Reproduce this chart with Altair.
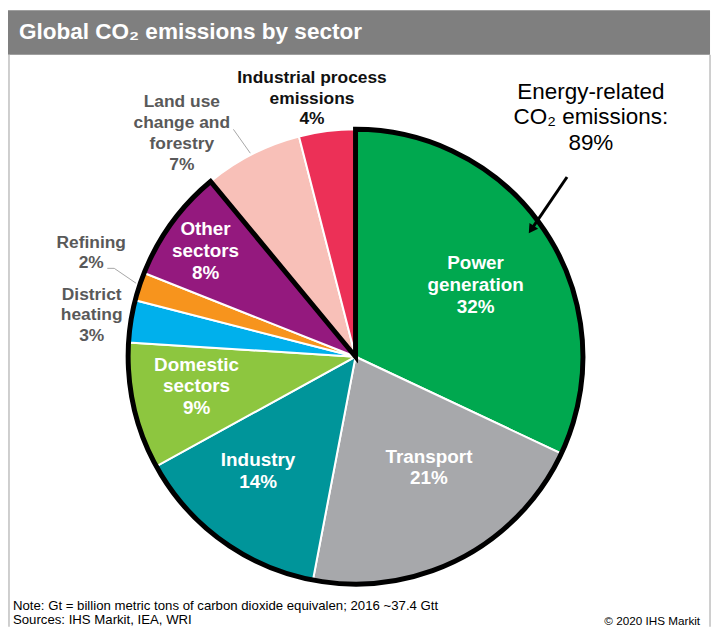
import altair as alt
import pandas as pd

# ---------------- data ----------------
sectors = ["Power generation", "Transport", "Industry", "Domestic sectors",
           "District heating", "Refining", "Other sectors",
           "Land use change and forestry", "Industrial process emissions"]
shares = [32, 21, 14, 9, 3, 2, 8, 7, 4]
label_lines = ["Power\ngeneration", "Transport", "Industry", "Domestic\nsectors",
               "District\nheating", "Refining", "Other\nsectors",
               "Land use\nchange and\nforestry", "Industrial process\nemissions"]
colors = ["#00a84f", "#a7a8ab", "#00959a", "#8dc63f", "#00b0ec",
          "#f7941d", "#94197e", "#f8c0b8", "#ec3057"]
energy_groups = ["Energy-related", "Non-energy"]
energy_shares = [89, 11]

title_text = "Global CO₂ emissions by sector"
annotation_lines = ["Energy-related", "CO₂ emissions:", "89%"]
note_lines = ["Note: Gt = billion metric tons of carbon dioxide equivalen; 2016 ~37.4 Gtt",
              "Sources: IHS Markit, IEA, WRI"]
copyright_text = "© 2020 IHS Markit"

FONT = "Liberation Sans"
W, H = 710, 621
CX, CY, R = 350, 349, 229

labels = [f"{l}\n{s}%" for l, s in zip(label_lines, shares)]
df = pd.DataFrame({
    "sector": sectors,
    "share": shares,
    "order": list(range(len(sectors))),
    "label": labels,
})
df_energy = pd.DataFrame({"group": energy_groups, "share": energy_shares, "order": [0, 1]})
one = pd.DataFrame({"k": [0]})

theta = alt.Theta("share:Q", stack=True, scale=alt.Scale(domain=[0, 100]))
order = alt.Order("order:Q")

pie = alt.Chart(df).mark_arc(radius=R, stroke="white", strokeWidth=2).encode(
    theta=theta, order=order,
    color=alt.Color("sector:N", scale=alt.Scale(domain=sectors, range=colors), legend=None),
    x=alt.value(CX), y=alt.value(CY),
)

outline = alt.Chart(df_energy).mark_arc(
    radius=R, fillOpacity=0, stroke="black", strokeWidth=5, strokeJoin="miter"
).encode(
    theta=theta, order=order,
    strokeOpacity=alt.condition(alt.datum.group == "Energy-related", alt.value(1), alt.value(0)),
    x=alt.value(CX), y=alt.value(CY),
)

# label styling: radius, dx, dy, color, font size, line height
WHITE, GREY, BLACK = "white", "#595959", "#111111"
label_style = {
    "Power generation": (142, 1, 4, WHITE, 19, 22),
    "Transport": (132, 14, -6, WHITE, 19, 22),
    "Industry": (150, -10, -6, WHITE, 19, 22),
    "Domestic sectors": (160, -4, -5, WHITE, 19, 22),
    "Other sectors": (183, -3, 1, WHITE, 19, 22),
    "Industrial process emissions": (262, -11, 0, BLACK, 17.5, 21),
    "Land use change and forestry": (284, -46, 28, GREY, 17.5, 21),
    "Refining": (283, 3, -17, GREY, 17.5, 21),
    "District heating": (266, -3, 0, GREY, 17.5, 21),
}

label_layers = []
for name, (r, dx, dy, c, fs, lh) in label_style.items():
    n_lines = labels[sectors.index(name)].count("\n") + 1
    label_layers.append(
        alt.Chart(df).mark_text(
            radius=r, dx=dx, dy=dy - (n_lines - 1) * lh / 2, color=c, font=FONT,
            fontSize=fs, fontWeight="bold", lineBreak="\n", lineHeight=lh,
            align="center", baseline="middle",
        ).encode(
            theta=theta, order=order, text="label:N",
            opacity=alt.condition(alt.datum.sector == name, alt.value(1), alt.value(0)),
            x=alt.value(CX), y=alt.value(CY),
        )
    )

# leader lines
leaders = [
    alt.Chart(one).mark_rule(color="#a6a6a6", strokeWidth=1).encode(
        x=alt.value(227), y=alt.value(120), x2=alt.value(244), y2=alt.value(144)),
    alt.Chart(one).mark_rule(color="#a6a6a6", strokeWidth=1).encode(
        x=alt.value(100), y=alt.value(260), x2=alt.value(107), y2=alt.value(260)),
    alt.Chart(one).mark_rule(color="#a6a6a6", strokeWidth=1).encode(
        x=alt.value(107), y=alt.value(260), x2=alt.value(129), y2=alt.value(275)),
]

# frame and title bar
title_bar = alt.Chart(one).mark_rect(color="#7f7f7f").encode(
    x=alt.value(0), x2=alt.value(707), y=alt.value(0), y2=alt.value(45))
left_border = alt.Chart(one).mark_rule(color="#bfbfbf", strokeWidth=1.5).encode(
    x=alt.value(1), y=alt.value(45), y2=alt.value(H))
right_border = alt.Chart(one).mark_rule(color="#bfbfbf", strokeWidth=1.5).encode(
    x=alt.value(707), y=alt.value(45), y2=alt.value(H))
title = alt.Chart(one).mark_text(
    align="left", baseline="middle", color="white", font=FONT, fontSize=22.7, fontWeight="bold"
).encode(x=alt.value(11), y=alt.value(22), text=alt.value(title_text))

# annotation
ann_lh = 26
annotation = alt.Chart(pd.DataFrame({"t": ["\n".join(annotation_lines)]})).mark_text(
    align="center", baseline="middle", color="black", font=FONT, fontSize=22.6,
    lineBreak="\n", lineHeight=ann_lh,
).encode(x=alt.value(587), y=alt.value(82), text="t:N")
arrow_line = alt.Chart(one).mark_rule(color="black", strokeWidth=3).encode(
    x=alt.value(563), y=alt.value(168), x2=alt.value(529), y2=alt.value(218))
arrow_head = alt.Chart(one).mark_point(
    shape="triangle-up", angle=214, size=110, filled=True, color="black", opacity=1
).encode(x=alt.value(527), y=alt.value(221))

# footer
note = alt.Chart(pd.DataFrame({"t": ["\n".join(note_lines)]})).mark_text(
    align="left", baseline="middle", color="black", font=FONT, fontSize=13.3,
    lineBreak="\n", lineHeight=14.5,
).encode(x=alt.value(5), y=alt.value(600), text="t:N")
copyright_ = alt.Chart(one).mark_text(
    align="right", baseline="middle", color="black", font=FONT, fontSize=11.8
).encode(x=alt.value(697), y=alt.value(615), text=alt.value(copyright_text))

chart = alt.layer(
    title_bar, left_border, right_border, title,
    pie, outline, *label_layers, *leaders,
    annotation, arrow_line, arrow_head, note, copyright_,
).properties(
    width=W, height=H, autosize=alt.AutoSizeParams(type="none"), padding=0,
).configure_view(stroke=None)

chart.save("out.html", embed_options={"renderer": "svg", "actions": False})
